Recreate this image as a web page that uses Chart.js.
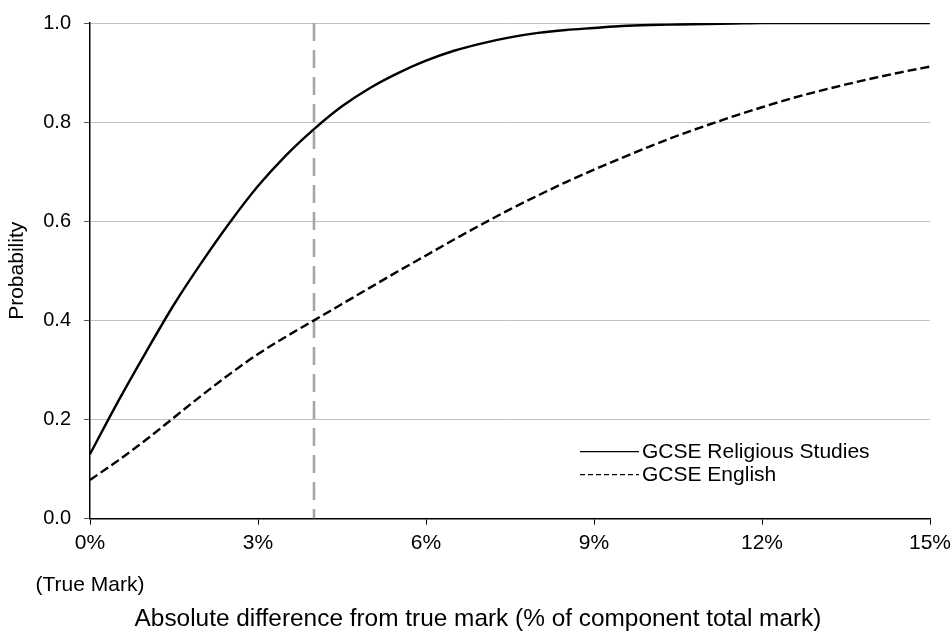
<!DOCTYPE html>
<html>
<head>
<meta charset="utf-8">
<script src="https://cdn.jsdelivr.net/npm/chart.js@4/dist/chart.umd.min.js"></script>
<style>
    html, body { margin: 0; padding: 0; background: #fff; }
    #wrap { width: 952px; height: 632px; position: relative; }
</style>
</head>
<body>
<div id="wrap"><canvas id="chart"></canvas></div>
<script>
// Absolute difference from true mark (% of component total mark)
const diffPct = [0, 0.5, 1, 1.5, 2, 2.5, 3, 3.5, 4, 4.5, 5, 5.5, 6, 6.5, 7, 7.5,
                 8, 8.5, 9, 9.5, 10, 10.5, 11, 11.5, 12, 12.5, 13, 13.5, 14, 14.5, 15];

// Probability
const religiousStudies = [0.130, 0.236, 0.336, 0.432, 0.518, 0.598, 0.671, 0.733, 0.786, 0.832,
                          0.869, 0.899, 0.924, 0.944, 0.959, 0.971, 0.980, 0.986, 0.990, 0.994,
                          0.996, 0.997, 0.998, 0.999, 1.000, 1.000, 1.000, 1.000, 1.000, 1.000, 1.000];
const english = [0.078, 0.117, 0.159, 0.204, 0.249, 0.292, 0.332, 0.367, 0.400, 0.433,
                 0.466, 0.499, 0.531, 0.563, 0.594, 0.624, 0.652, 0.679, 0.704, 0.728,
                 0.751, 0.773, 0.793, 0.812, 0.830, 0.847, 0.862, 0.876, 0.889, 0.901, 0.912];

const seriesNames = ['GCSE Religious Studies', 'GCSE English'];
const markerX     = [4, 4];      // vertical reference line at 4%
const markerY     = [1, 0];

const FONT = 'Liberation Sans, Arial, sans-serif';

const toPoints = (xs, ys) => xs.map((x, i) => ({ x, y: ys[i] }));

// Legend drawn inside the plot area, lower right
const innerLegend = {
    id: 'innerLegend',
    afterDraw(chart) {
        const { ctx, chartArea } = chart;
        const x0 = chartArea.right - 350;
        const y0 = chartArea.bottom - 67;
        ctx.save();
        ctx.font = '21px ' + FONT;
        ctx.textBaseline = 'middle';
        ctx.fillStyle = '#000';
        [0, 1].forEach(i => {
            const y = y0 + i * 23;
            ctx.beginPath();
            ctx.setLineDash(i === 0 ? [] : [5, 3]);
            ctx.lineWidth = 1.2;
            ctx.strokeStyle = '#000';
            ctx.moveTo(x0, y);
            ctx.lineTo(x0 + 59, y);
            ctx.stroke();
            ctx.fillText(chart.data.datasets[i].label, x0 + 62, y + 1);
        });
        ctx.restore();
    },
};

new Chart(document.getElementById('chart'), {
    type: 'line',
    data: {
        datasets: [
            {
                label: seriesNames[0],
                data: toPoints(diffPct, religiousStudies),
                borderColor: '#000',
                borderWidth: 2.4,
                pointRadius: 0,
                cubicInterpolationMode: 'monotone',
            },
            {
                label: seriesNames[1],
                data: toPoints(diffPct, english),
                borderColor: '#000',
                borderWidth: 2.4,
                borderDash: [9, 4],
                pointRadius: 0,
                cubicInterpolationMode: 'monotone',
            },
            {
                label: 'marker',
                data: toPoints(markerX, markerY),
                borderColor: '#a6a6a6',
                borderWidth: 2.6,
                borderDash: [18, 9],
                pointRadius: 0,
            },
        ],
    },
    options: {
        responsive: true,
        maintainAspectRatio: false,
        animation: false,
        layout: { padding: { top: 0, right: 0, bottom: 0, left: 4 } },
        plugins: {
            legend: { display: false },
            tooltip: { enabled: false },
            title: {
                display: true,
                position: 'bottom',
                text: 'Absolute difference from true mark (% of component total mark)',
                color: '#000',
                font: { family: FONT, size: 24.4, weight: 'normal', lineHeight: 1 },
                padding: { top: 3, bottom: 1 },
            },
        },
        scales: {
            x: {
                type: 'linear',
                min: 0,
                max: 15,
                border: { color: '#000', width: 1.5 },
                grid: { drawOnChartArea: false, tickLength: 6, tickColor: '#000' },
                ticks: {
                    stepSize: 3,
                    color: '#000',
                    padding: 8,
                    maxRotation: 0,
                    font: { family: FONT, size: 21, lineHeight: 1 },
                    callback: v => v === 0 ? ['0%', '', '(True Mark)'] : v + '%',
                },
                // let the "15%" label hang past the plot edge like the original
                afterFit: scale => { scale.paddingRight = 22; },
            },
            y: {
                min: 0,
                max: 1,
                border: { color: '#000', width: 1.5 },
                grid: { color: '#c0c0c0', lineWidth: 1, tickLength: 6, tickColor: '#555' },
                ticks: {
                    stepSize: 0.2,
                    color: '#000',
                    padding: 13,
                    font: { family: FONT, size: 20, lineHeight: 1 },
                    callback: v => v.toFixed(1),
                },
                title: {
                    display: true,
                    text: 'Probability',
                    color: '#000',
                    font: { family: FONT, size: 21 },
                    padding: { top: 1, bottom: 0 },
                },
            },
        },
    },
    plugins: [innerLegend],
});
</script>
</body>
</html>
